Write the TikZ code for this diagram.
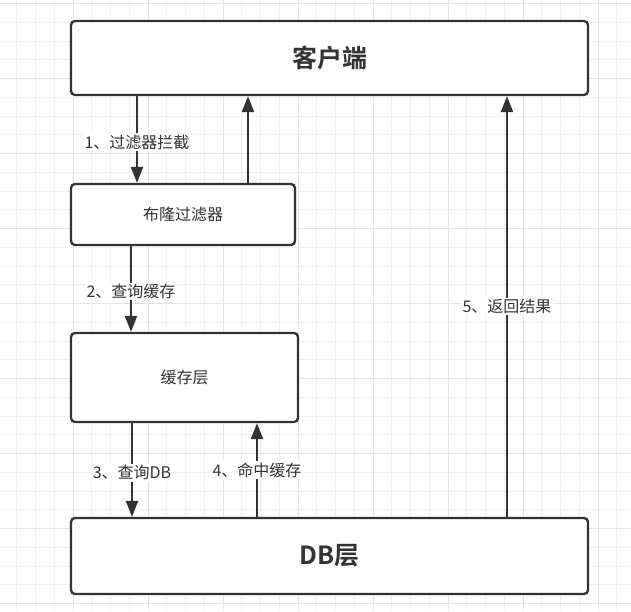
\documentclass[tikz,border=0pt]{standalone}
\usepackage{fontspec}
\setmainfont{Noto Sans CJK SC}[BoldFont={Noto Sans CJK SC Bold}]
\usetikzlibrary{arrows.meta}
\definecolor{ink}{HTML}{333333}
\definecolor{gridminor}{HTML}{F1F1F1}
\definecolor{gridmajor}{HTML}{E4E4E4}
\tikzset{
	box/.style={draw=ink, line width=2.3pt, rounded corners=4pt, fill=white, text=ink, inner sep=0pt, font=\fontsize{16}{19}\selectfont},
	titlebox/.style={box, font=\bfseries\fontsize{25}{30}\selectfont},
	arr/.style={draw=ink, line width=2.4pt, -{Triangle[length=16pt,width=12pt]}},
	lbl/.style={fill=white, text=ink, inner sep=1.5pt, font=\fontsize{16}{19}\selectfont},
}

\begin{document}
\begin{tikzpicture}[x=1pt, y=-1pt]
	\useasboundingbox[fill=white] (0,0) rectangle (631,611);
	% background grid
	\foreach \i in {0,...,33}{
		\draw[gridminor, line width=1pt] (16.75+18.75*\i,0) -- ++(0,611);}
	\foreach \i in {0,...,32}{
		\draw[gridminor, line width=1pt] (0,3.5+18.75*\i) -- ++(631,0);}
	\foreach \i in {0,...,7}{
		\draw[gridmajor, line width=1pt] (73+75*\i,0) -- ++(0,611);}
	\foreach \i in {0,...,8}{
		\draw[gridmajor, line width=1pt] (0,3.5+75*\i) -- ++(631,0);}

	% boxes
	\node[titlebox, minimum width=517pt, minimum height=74pt] (client) at (329.5,58) {客户端};
	\node[box, minimum width=224pt, minimum height=61pt] (bloom) at (183,214.5) {布隆过滤器};
	\node[box, minimum width=227pt, minimum height=89pt] (cache) at (184.5,377.5) {缓存层};
	\node[titlebox, minimum width=517pt, minimum height=76pt] (db) at (329.5,556) {DB层};

	% arrows down
	\foreach \from/\to/\xx/\txt in {client/bloom/137/{1、过滤器拦截}, bloom/cache/131/{2、查询缓存}, cache/db/132/{3、查询DB}}{
		\coordinate (c) at (\xx,0);
		\draw[arr] (\from.south -| c) -- node[lbl, pos=0.53] {\txt} (\to.north -| c);}
	% arrows up
	\foreach \from/\to/\xx/\txt in {db/cache/257/{4、命中缓存}, db/client/507/{5、返回结果}}{
		\coordinate (c) at (\xx,0);
		\draw[arr] (\from.north -| c) -- node[lbl] {\txt} (\to.south -| c);}
	\coordinate (c) at (248,0);
	\draw[arr] (bloom.north -| c) -- (client.south -| c);
\end{tikzpicture}
\end{document}
